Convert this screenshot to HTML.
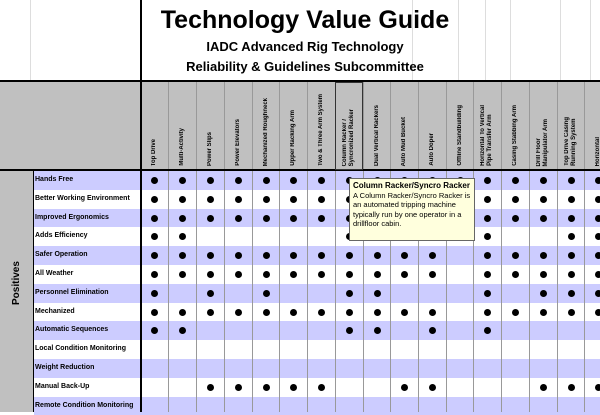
<!DOCTYPE html>
<html><head><meta charset="utf-8"><style>
body{margin:0;width:600px;height:412px;overflow:hidden;background:#fff;font-family:"Liberation Sans",Arial,sans-serif;position:relative}
.a{position:absolute}
.t{position:absolute;left:140px;width:330px;text-align:center;font-weight:bold;color:#000}
.h{position:absolute;bottom:246px;writing-mode:vertical-rl;transform:rotate(180deg);font-size:6px;font-weight:bold;text-align:left;line-height:7px;white-space:nowrap}
.lab{position:absolute;left:35px;font-size:7px;font-weight:bold;white-space:nowrap}
.dot{position:absolute;width:7px;height:7px;border-radius:50%;background:#000}
</style></head><body>
<div class="a" style="left:140px;top:0;width:2px;height:412px;background:#000;z-index:3"></div>
<div class="a" style="left:0;top:80px;width:600px;height:2px;background:#000"></div>
<div class="a" style="left:0;top:82px;width:600px;height:88px;background:#c0c0c0"></div>
<div class="a" style="left:0;top:169px;width:600px;height:2px;background:#000;z-index:3"></div>
<div class="a" style="left:0;top:171px;width:33px;height:241px;background:#c0c0c0"></div>
<div class="a" style="left:33px;top:171px;width:1px;height:241px;background:#000"></div>
<div class="a" style="left:2px;top:270px;width:30px;height:40px;font-size:10px;font-weight:bold;transform:rotate(-90deg);text-align:center;line-height:40px">Positives</div>
<div id="g"></div>
<div class="t" style="top:6px;font-size:25px">Technology Value Guide</div>
<div class="t" style="top:39px;font-size:13px">IADC Advanced Rig Technology</div>
<div class="t" style="top:59px;font-size:13px">Reliability &amp; Guidelines Subcommittee</div>
<div class="h" style="left:151px">Top Drive</div>
<div class="h" style="left:179px">Multi-Activity</div>
<div class="h" style="left:207px">Power Slips</div>
<div class="h" style="left:235px">Power Elevators</div>
<div class="h" style="left:263px">Mechanized Roughneck</div>
<div class="h" style="left:290px">Upper Racking Arm</div>
<div class="h" style="left:318px">Two &amp; Three Arm System</div>
<div class="h" style="left:342px">Column Racker /<br>Syncronized Racker</div>
<div class="h" style="left:374px">Dual Vertical Rackers</div>
<div class="h" style="left:401px">Auto Mud Bucket</div>
<div class="h" style="left:429px">Auto Doper</div>
<div class="h" style="left:457px">Offline Standbuilding</div>
<div class="h" style="left:480px">Horizontal To Vertical<br>Pipe Transfer Arm</div>
<div class="h" style="left:512px">Casing Stabbing Arm</div>
<div class="h" style="left:536px">Drill Floor<br>Manipulator Arm</div>
<div class="h" style="left:564px">Top Drive Casing<br>Running System</div>
<div class="h" style="left:595px">Horizontal</div>
<div class="a" style="left:335px;top:82px;width:26px;height:86px;border:1.5px solid #333;z-index:4"></div>
<div class="a" style="left:349px;top:178px;width:126px;height:63px;background:#ffffdd;border:1px solid #666;z-index:6;font-size:7.5px;line-height:9.5px;padding:0 0 0 3px;box-sizing:border-box">
<div style="font-weight:bold;font-size:8px;margin-top:2px">Column Racker/Syncro Racker</div>
<div>A Column Racker/Syncro Racker is an automated tripping machine typically run by one operator in a drillfloor cabin.</div></div>
<script>
var g=document.getElementById('g'),h='';
var labs=["Hands Free","Better Working Environment","Improved Ergonomics","Adds Efficiency","Safer Operation","All Weather","Personnel Elimination","Mechanized","Automatic Sequences","Local Condition Monitoring","Weight Reduction","Manual Back-Up","Remote Condition Monitoring"];
var cx=[154,182,210,238,266,293,321,349,377,404,432,460,487,515,543,571,598];
var all=[0,1,2,3,4,5,6,7,8,9,10,11,12,13,14,15,16];
var d=[all,all,all,[0,1,7,12,15,16],[0,1,2,3,4,5,6,7,8,9,10,12,13,14,15,16],[0,1,2,3,4,5,6,7,8,9,10,12,13,14,15,16],[0,2,4,7,8,12,14,15,16],[0,1,2,3,4,5,6,7,8,9,10,12,13,14,15,16],[0,1,7,8,10,12],[],[],[2,3,4,5,6,9,10,14,15,16],[]];
for(var r=0;r<13;r++){var y=171+r*18.8;
h+='<div class="a" style="left:34px;top:'+y+'px;width:566px;height:18.8px;background:'+(r%2?'#fff':'#ccccff')+'"></div>';
h+='<div class="lab" style="top:'+(y+5)+'px">'+labs[r]+'</div>';
d[r].forEach(function(c){h+='<div class="dot" style="left:'+(cx[c]-3.5)+'px;top:'+(y+6)+'px;z-index:2"></div>'});}
var xs=[168,196,224,252,279,307,335,363,390,418,446,473,501,529,557,584];
xs.forEach(function(x){h+='<div class="a" style="left:'+x+'px;top:82px;width:1px;height:330px;background:#999;z-index:1"></div>'});
[30,412,458,485,510,560,590].forEach(function(x){h+='<div class="a" style="left:'+x+'px;top:0;width:1px;height:80px;background:#ddd"></div>'});
g.innerHTML=h;
</script>
</body></html>
